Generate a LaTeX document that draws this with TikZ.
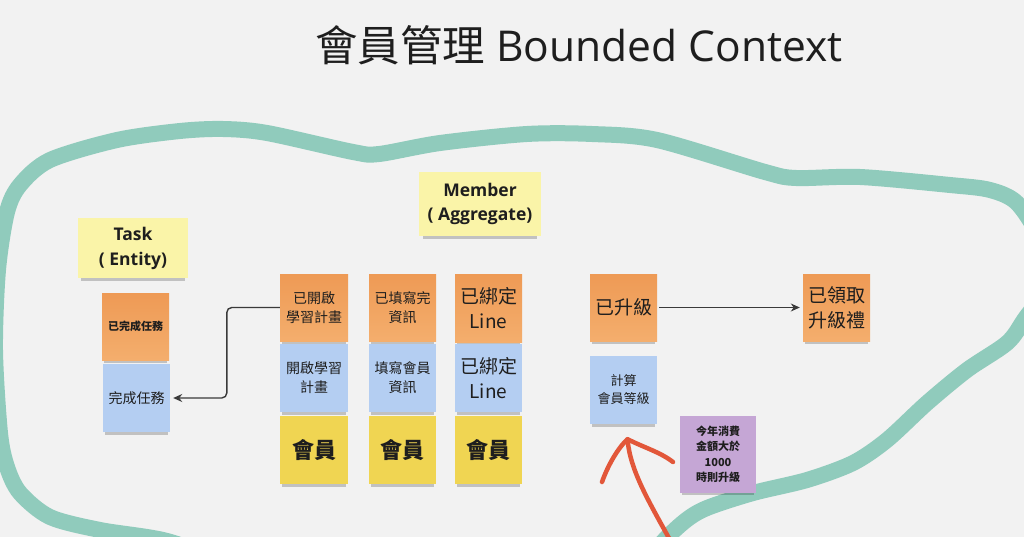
\documentclass[tikz,border=0pt]{standalone}
\usepackage{fontspec}
\setmainfont{Open Sans}
\newfontfamily\cjk{Noto Sans CJK TC}
\usetikzlibrary{arrows.meta,shadows}
\definecolor{bgc}{HTML}{F2F2F2}
\definecolor{tealc}{HTML}{90CBBC}
\definecolor{orangetop}{HTML}{EE9A55}
\definecolor{orangebot}{HTML}{F4AE6D}
\definecolor{bluec}{HTML}{B4CEF2}
\definecolor{yellowc}{HTML}{F0D552}
\definecolor{lyellow}{HTML}{FAF4A8}
\definecolor{purplec}{HTML}{C5A6D5}
\definecolor{redc}{HTML}{E2573A}
\definecolor{inkc}{HTML}{1E1E1E}
\definecolor{linec}{HTML}{3A3A3A}
\tikzset{
  sticky/.style={minimum width=67pt, minimum height=67pt, inner sep=0pt, align=center, text=inkc,
    general shadow={fill=black, opacity=0.2, shadow scale=0.94, shadow yshift=-5pt}},
  evtnote/.style={sticky, top color=orangetop, bottom color=orangebot},
  cmdnote/.style={sticky, fill=bluec},
  actornote/.style={sticky, fill=yellowc, font=\cjk\bfseries\fontsize{22}{26}\selectfont},
  lblnote/.style={sticky, fill=lyellow, font=\bfseries\fontsize{17.5}{25}\selectfont},
  policynote/.style={sticky, fill=purplec},
  conn/.style={draw=linec, line width=1.4pt, -{Stealth[length=9pt,width=8pt]}},
}
\begin{document}
\begin{tikzpicture}[x=1pt,y=-1pt]
\useasboundingbox (0,0) rectangle (1024,537);
\fill[bgc] (0,0) rectangle (1024,537);
% bounded context outline
\draw[tealc, line width=16pt, line join=round] plot[smooth cycle, tension=0.5] coordinates {
 (-5,350) (-2,270) (7,212) (20,185) (50,160) (117,140) (180,131) (223,129) (267,133)
 (353,152) (379,154) (440,143) (527,134) (592,134) (657,140) (765,172) (796,178)
 (860,177) (950,185) (990,190) (1017,203) (1040,240) (1046,285) (1024,320) (1007,343)
 (967,370) (927,403) (887,440) (853,463) (807,480) (753,493) (707,508) (685,521)
 (660,545) (630,585) (420,640) (230,565) (167,541) (100,530) (50,517) (20,493) (7,467) (0,433)};
% title
\node[text=inkc, font=\fontsize{42.5}{50}\selectfont, anchor=center] (title) at (579,45) {{\cjk 會員管理} Bounded Context};
% labels
\node[lblnote, minimum width=110pt, minimum height=60pt] (tasklbl) at (133,248) {Task\\( Entity)};
\node[lblnote, minimum width=122pt, minimum height=64pt, font=\bfseries\fontsize{17.5}{24}\selectfont] (memberlbl) at (480,204) {Member\\( Aggregate)};
% task entity
\node[evtnote, font=\cjk\bfseries\fontsize{11}{14}\selectfont] (donetask) at (135.5,326.5) {已完成任務};
\node[cmdnote, minimum height=68pt, font=\cjk\fontsize{14}{19}\selectfont] (dotask) at (136.5,398) {完成任務};
% column 1
\node[evtnote, minimum width=68pt, font=\cjk\fontsize{14}{19}\selectfont] (planopened) at (314,307.5) {已開啟\\學習計畫};
\node[cmdnote, minimum width=68pt, minimum height=68pt, font=\cjk\fontsize{14}{19}\selectfont] (openplan) at (314,378) {開啟學習\\計畫};
\node[actornote, minimum width=68pt, minimum height=68pt] (member1) at (314,450) {會員};
% column 2
\node[evtnote, font=\cjk\fontsize{14}{19}\selectfont] (infofilled) at (402.5,307.5) {已填寫完\\資訊};
\node[cmdnote, minimum height=68pt, font=\cjk\fontsize{14}{19}\selectfont] (fillinfo) at (402.5,378) {填寫會員\\資訊};
\node[actornote, minimum height=68pt] (member2) at (402.5,450) {會員};
% column 3
\node[evtnote, minimum height=68pt, font=\cjk\fontsize{19}{25}\selectfont] (linebound) at (488.5,308) {已綁定\\Line};
\node[cmdnote, minimum height=68pt, font=\cjk\fontsize{19}{25}\selectfont] (bindline) at (488.5,378) {已綁定\\Line};
\node[actornote, minimum height=68pt] (member3) at (488.5,450) {會員};
% upgrade
\node[evtnote, font=\cjk\fontsize{19}{25}\selectfont] (upgraded) at (623.5,307.5) {已升級};
\node[evtnote, font=\cjk\fontsize{19}{25}\selectfont] (giftgot) at (836.5,307.5) {已領取\\升級禮};
\node[cmdnote, minimum height=68pt, font=\cjk\fontsize{13}{18}\selectfont] (calclevel) at (623.5,390) {計算\\會員等級};
\node[policynote, minimum width=76pt, minimum height=77pt, font=\cjk\bfseries\fontsize{11}{15.5}\selectfont] (rule) at (718,454.5) {今年消費\\金額大於\\1000\\時則升級};
% connectors
\draw[conn, rounded corners=5pt] (planopened.west) -- ++(-53,0) |- ([xshift=3pt]dotask.east);
\draw[conn, shorten >=3pt, shorten <=2pt] (upgraded.east) -- (giftgot.west);
% red hand-drawn arrow
\coordinate (redtip) at ([xshift=4pt,yshift=-15pt]calclevel.south);
\coordinate (redtail) at (670,540);
\draw[redc, line width=4.5pt, line cap=round, line join=round]
  (redtail) .. controls (648,500) and (630,470) .. (redtip);
\draw[redc, line width=4.5pt, line cap=round, line join=round]
  (602,482) .. controls (608,465) and (618,448) .. (redtip)
  .. controls (645,448) and (660,452) .. (673,462);
\end{tikzpicture}
\end{document}
